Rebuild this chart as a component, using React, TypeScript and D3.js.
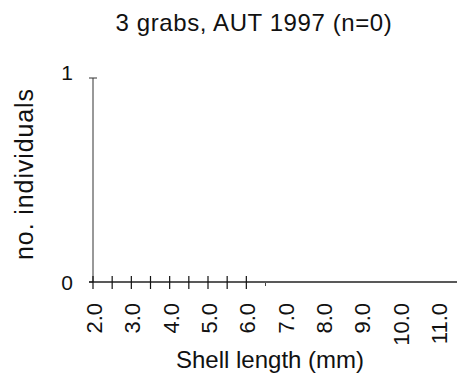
import * as d3 from 'd3';

// Size-class bins (mm) and counts: n=0, so every bin is empty
const bins = [2.0, 2.5, 3.0, 3.5, 4.0, 4.5, 5.0, 5.5, 6.0, 6.5, 7.0, 7.5, 8.0, 8.5, 9.0, 9.5, 10.0, 10.5, 11.0];
const counts = [0, 0, 0, 0, 0, 0, 0, 0, 0, 0, 0, 0, 0, 0, 0, 0, 0, 0, 0];
const xTickLabels = [2, 3, 4, 5, 6, 7, 8, 9, 10, 11];
const majorTicks = [2.0, 2.5, 3.0, 3.5, 4.0, 4.5, 5.0, 5.5, 6.0];
const minorTicks = [6.5];
const yTicks = [0, 1];

const W = 462;
const H = 380;
const FONT = 'Liberation Sans, Arial, sans-serif';

export default function App() {
  const x = d3.scaleLinear().domain([2, 11]).range([93, 438]);
  const y = d3.scaleLinear().domain([0, 1]).range([282, 78]);
  const binW = x(2.5) - x(2);

  return (
    <svg
      width={W}
      height={H}
      style={{ position: 'absolute', left: 0, top: 0, background: '#fff' }}
      fontFamily={FONT}
    >
      <text x={254} y={31} textAnchor="middle" fontSize={24} letterSpacing={0.6} fill="#111">
        3 grabs, AUT 1997 (n=0)
      </text>

      {/* bars (all zero height) */}
      {bins.map((b, i) => (
        <rect
          key={b}
          x={x(b)}
          y={y(counts[i])}
          width={binW}
          height={y(0) - y(counts[i])}
          fill="#222"
        />
      ))}

      {/* y axis */}
      <line x1={93} x2={93} y1={y(1)} y2={y(0)} stroke="#333" strokeWidth={1} />
      {yTicks.map((t) => (
        <g key={t}>
          <line x1={89} x2={t === 1 ? 97 : 93} y1={y(t)} y2={y(t)} stroke="#333" strokeWidth={1} />
          <text x={73} y={t === 1 ? y(t) - 6 : y(t)} dy="0.36em" textAnchor="end" fontSize={21} fill="#111">
            {t}
          </text>
        </g>
      ))}
      <text
        transform={`translate(33,174) rotate(-90)`}
        textAnchor="middle"
        fontSize={25}
        letterSpacing={0.9}
        fill="#111"
      >
        no. individuals
      </text>

      {/* x axis */}
      <line x1={89} x2={457} y1={y(0)} y2={y(0)} stroke="#222" strokeWidth={1.5} />
      {majorTicks.map((t) => (
        <line key={t} x1={x(t)} x2={x(t)} y1={y(0) - 6} y2={y(0) + 7} stroke="#111" strokeWidth={1.2} />
      ))}
      {minorTicks.map((t) => (
        <line key={t} x1={x(t)} x2={x(t)} y1={y(0) + 1} y2={y(0) + 4} stroke="#444" strokeWidth={1} />
      ))}
      {xTickLabels.map((t) => (
        <text
          key={t}
          transform={`translate(${x(t) + 9},${y(0) + 21}) rotate(-90)`}
          textAnchor="end"
          fontSize={22}
          fill="#111"
        >
          {t.toFixed(1)}
        </text>
      ))}
      <text x={270} y={368} textAnchor="middle" fontSize={24} fill="#111">
        Shell length (mm)
      </text>
    </svg>
  );
}
